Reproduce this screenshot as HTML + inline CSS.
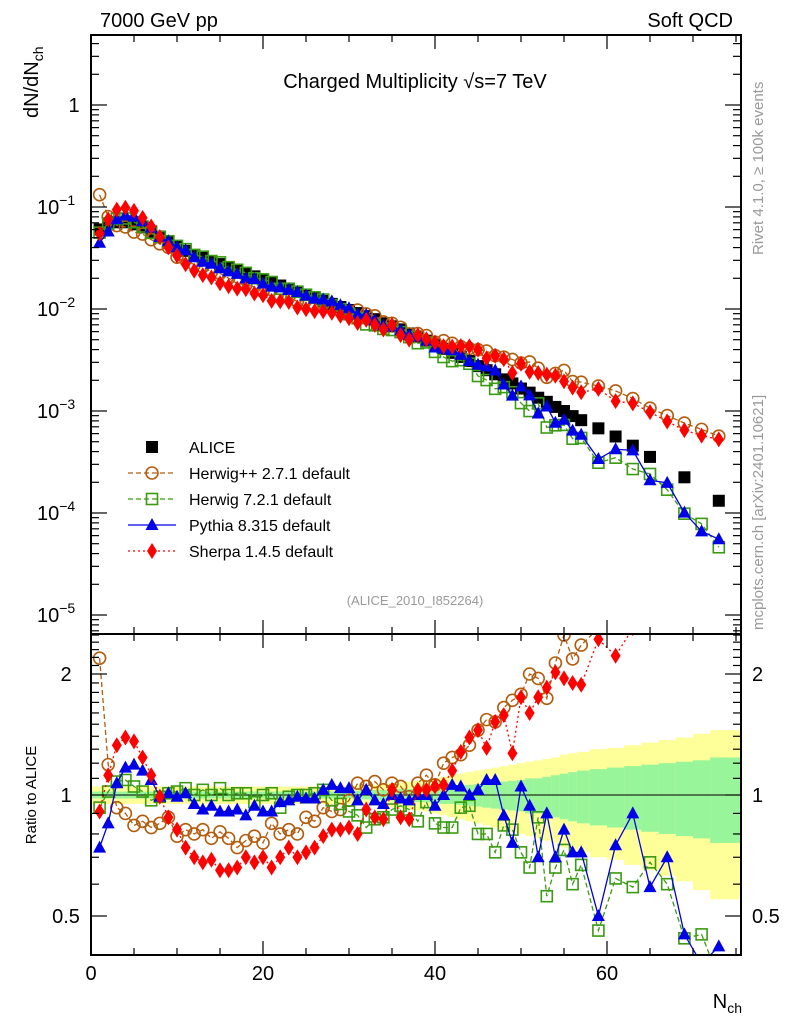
<!DOCTYPE html>
<html><head><meta charset="utf-8"><style>
body{margin:0;background:#fff}
svg text{font-family:"Liberation Sans",sans-serif}
</style></head><body>
<svg id="c" width="786" height="1024" viewBox="0 0 786 1024" xmlns="http://www.w3.org/2000/svg">
<text x="100" y="27" font-size="20">7000 GeV pp</text>
<text x="733" y="27" font-size="20" text-anchor="end">Soft QCD</text>
<text x="415" y="88" font-size="20" text-anchor="middle">Charged Multiplicity √s=7 TeV</text>
<text x="415" y="605" font-size="13" fill="#999" text-anchor="middle">(ALICE_2010_I852264)</text>
<text transform="translate(38,118) rotate(-90)" font-size="20">dN/dN<tspan font-size="14" dy="5">ch</tspan></text>
<text transform="translate(36,795) rotate(-90)" font-size="15" text-anchor="middle">Ratio to ALICE</text>
<text x="742" y="1008" font-size="20" text-anchor="end">N<tspan font-size="14" dy="5">ch</tspan></text>
<text transform="translate(763,255) rotate(-90)" font-size="15" fill="#999">Rivet 4.1.0, ≥ 100k events</text>
<text transform="translate(763,630) rotate(-90)" font-size="15" fill="#999">mcplots.cern.ch [arXiv:2401.10621]</text>
<g id="band"></g><g id="marks"></g><g id="axes"></g><g id="legend"></g>
</svg>
<script>
const bins=[1,2,3,4,5,6,7,8,9,10,11,12,13,14,15,16,17,18,19,20,21,22,23,24,25,26,27,28,29,30,31,32,33,34,35,36,37,38,39,40,41,42,43,44,45,46,47,48,49,50,51,52,53,54,55,56,57,59,61,63,65,67,69,71,73];
const aliceLog=[-1.22,-1.17,-1.15,-1.15,-1.17,-1.20,-1.24,-1.29,-1.34,-1.39,-1.43,-1.47,-1.50,-1.53,-1.56,-1.59,-1.62,-1.65,-1.68,-1.71,-1.74,-1.77,-1.80,-1.83,-1.86,-1.89,-1.92,-1.95,-1.98,-2.01,-2.04,-2.07,-2.10,-2.14,-2.17,-2.20,-2.24,-2.27,-2.31,-2.35,-2.39,-2.43,-2.47,-2.51,-2.56,-2.60,-2.64,-2.69,-2.73,-2.78,-2.82,-2.87,-2.91,-2.96,-3.00,-3.05,-3.09,-3.17,-3.25,-3.34,-3.45,-3.55,-3.65,-3.76,-3.88];
const aliceShown=[1,1,1,1,1,1,1,1,1,1,1,1,1,1,1,1,1,1,1,1,1,1,1,1,1,1,1,1,1,1,1,1,1,1,1,1,1,1,1,1,1,1,1,1,1,1,1,1,1,1,1,1,1,1,1,1,1,1,1,1,1,0,1,0,1];
const errStat=[.02,.02,.02,.02,.02,.02,.02,.02,.02,.02,.02,.02,.02,.02,.02,.02,.02,.02,.02,.02,.02,.02,.02,.02,.02,.02,.02,.02,.02,.02,.025,.025,.03,.03,.03,.035,.035,.04,.04,.045,.05,.05,.055,.06,.065,.07,.075,.08,.085,.09,.1,.1,.11,.12,.13,.14,.15,.16,.17,.18,.19,.2,.21,.22,.24];
const errTot=[.05,.05,.05,.05,.05,.05,.05,.05,.05,.05,.05,.05,.05,.05,.05,.05,.05,.05,.05,.05,.05,.05,.05,.05,.05,.05,.05,.05,.05,.05,.055,.06,.06,.065,.07,.075,.08,.085,.09,.1,.11,.12,.13,.14,.15,.16,.17,.18,.19,.2,.21,.22,.23,.24,.26,.27,.28,.3,.31,.33,.35,.37,.39,.42,.45];
const herwigpp=[2.19,1.19,.93,.90,.84,.86,.83,.85,.88,.79,.82,.80,.82,.78,.81,.78,.74,.77,.79,.76,.85,.80,.82,.80,.88,.86,.93,.91,.92,.97,1.07,1.05,1.08,1.03,1.07,1.05,.99,1.07,1.12,1.06,1.2,1.24,1.26,1.33,1.45,1.54,1.52,1.65,1.72,1.78,2.0,1.95,1.74,2.13,2.5,2.18,2.36,2.6,2.8,2.9,3.0,3.2,3.4,3.8,4.3];
const herwig7=[.93,1.02,1.08,1.09,1.05,1.02,.97,.99,1.01,1.02,1.04,1.0,1.03,1.0,1.04,1.0,1.01,1.01,.96,1.0,1.01,.93,.99,1.0,1.0,1.01,1.03,.97,.95,.91,.89,.83,.87,.88,.92,.94,.92,.86,.96,.85,.83,.83,.93,.94,.80,.80,.72,.84,.82,.72,.66,.88,.56,.66,.73,.60,.67,.46,.62,.59,.68,.60,.44,.45,.35];
const pythia=[.74,.85,1.07,1.17,1.19,1.15,1.09,.99,1.01,.99,1.01,.95,.92,.94,.91,.91,.92,.89,.94,.91,.91,.96,.97,.99,.98,.98,1.03,1.06,1.04,1.04,.97,1.03,.97,.95,1.0,.98,.97,1.0,1.0,.94,1.0,1.06,1.05,1.0,1.03,1.09,1.09,.89,.76,1.05,.94,.70,.90,.70,.82,.72,.72,.5,.75,.9,.59,.70,.45,.38,.42];
const sherpa=[.91,1.12,1.33,1.39,1.36,1.24,1.12,.99,.88,.82,.74,.70,.68,.69,.65,.65,.66,.70,.68,.70,.66,.70,.74,.70,.72,.74,.79,.82,.82,.83,.80,.92,.88,.87,1.03,.88,.87,1.03,1.03,1.05,1.06,1.15,1.28,1.39,1.45,1.31,1.52,1.58,1.27,1.75,1.60,1.75,1.85,2.02,1.95,1.90,1.88,2.44,2.22,2.6,2.75,2.8,2.9,3.3,4.0];
const yTickExp=[0,-1,-2,-3,-4,-5];
const rTicks=[2,1,0.5];
const xTicks=[0,20,40,60];

const NS='http://www.w3.org/2000/svg';
const L=91,R=741,T=35,MB=634,RB=955;
const X=n=>L+n*8.6;
const Y=lg=>105-lg*102;
const RY=r=>795-Math.log2(r)*121;
function mk(tag,at,par){const e=document.createElementNS(NS,tag);for(const k in at)e.setAttribute(k,at[k]);par.appendChild(e);return e;}
const band=document.getElementById('band'),marks=document.getElementById('marks'),axes=document.getElementById('axes'),leg=document.getElementById('legend');
const cp=mk('clipPath',{id:'cm'},document.getElementById('c'));mk('rect',{x:L,y:T,width:R-L,height:MB-T},cp);
const cr=mk('clipPath',{id:'cr'},document.getElementById('c'));mk('rect',{x:L,y:MB,width:R-L,height:RB-MB},cr);
band.setAttribute('clip-path','url(#cr)');
bins.forEach((n,i)=>{
 const x0=i==0?L:X((bins[i-1]+n)/2), x1=i==bins.length-1?R:X((bins[i+1]+n)/2);
 const a=mk('rect',{x:x0,y:RY(1+errTot[i]),width:x1-x0+0.5,height:RY(1-errTot[i])-RY(1+errTot[i]),fill:'#ffff99'},band);
 
 
 const b=mk('rect',{x:x0,y:RY(1+errStat[i]),width:x1-x0+0.5,height:RY(1-errStat[i])-RY(1+errStat[i]),fill:'#99f599'},band);
 
 
});
mk('line',{x1:L,x2:R,y1:RY(1),y2:RY(1),stroke:'#000','stroke-width':1},band);
function marker(g,shape,color,x,y){
 let e;
 if(shape=='sq')e=mk('rect',{x:x-6,y:y-6,width:12,height:12,fill:'#000'},g);
 else if(shape=='osq')e=mk('rect',{x:x-5.5,y:y-5.5,width:11,height:11,fill:'none',stroke:color,'stroke-width':1.6},g);
 else if(shape=='oc')e=mk('circle',{cx:x,cy:y,r:6,fill:'none',stroke:color,'stroke-width':1.6},g);
 else if(shape=='tri')e=mk('polygon',{points:`${x},${y-7} ${x-6.5},${y+5} ${x+6.5},${y+5}`,fill:color},g);
 else e=mk('polygon',{points:`${x},${y-8} ${x-5},${y} ${x},${y+8} ${x+5},${y}`,fill:color},g);
 return e;
}
const series=[
 {name:'herwigpp',d:herwigpp,c:'#b35c0e',s:'oc',dash:'5,3',lbl:'Herwig++ 2.7.1 default'},
 {name:'herwig7',d:herwig7,c:'#3a9a12',s:'osq',dash:'5,3',lbl:'Herwig 7.2.1 default'},
 {name:'pythia',d:pythia,c:'#0000e6',s:'tri',dash:'',lbl:'Pythia 8.315 default'},
 {name:'sherpa',d:sherpa,c:'#ff0000',s:'dia',dash:'2,3',lbl:'Sherpa 1.4.5 default'}];
const gm=mk('g',{'clip-path':'url(#cm)'},marks), gr=mk('g',{'clip-path':'url(#cr)'},marks);
bins.forEach((n,i)=>{if(!aliceShown[i])return;const m=marker(gm,'sq','#000',X(n),Y(aliceLog[i]));
 
 });
series.forEach(s=>{
 const pm=bins.map((n,i)=>X(n)+','+Y(aliceLog[i]+Math.log10(s.d[i]))).join(' ');
 const pr=bins.map((n,i)=>X(n)+','+RY(s.d[i])).join(' ');
 const l1=mk('polyline',{points:pm,fill:'none',stroke:s.c,'stroke-width':1.3,'stroke-dasharray':s.dash},gm);
 
 
 const l2=mk('polyline',{points:pr,fill:'none',stroke:s.c,'stroke-width':1.3,'stroke-dasharray':s.dash},gr);
 
 
 bins.forEach((n,i)=>{
  const a=marker(gm,s.s,s.c,X(n),Y(aliceLog[i]+Math.log10(s.d[i])));
  
  
  const b=marker(gr,s.s,s.c,X(n),RY(s.d[i]));
  
  
 });
});
mk('rect',{x:L,y:T,width:R-L,height:MB-T,fill:'none',stroke:'#000','stroke-width':2},axes);
mk('rect',{x:L,y:MB,width:R-L,height:RB-MB,fill:'none',stroke:'#000','stroke-width':2},axes);
function tk(x1,y1,x2,y2){mk('line',{x1,y1,x2,y2,stroke:'#000','stroke-width':1.2},axes);}
for(let n=0;n<=75;n+=5){const big=n%20==0;const h=big?14:7;
 tk(X(n),T,X(n),T+h);tk(X(n),MB,X(n),MB-h);tk(X(n),MB,X(n),MB+h);tk(X(n),RB,X(n),RB-h);}
xTicks.forEach(v=>{const t=mk('text',{x:X(v),y:980,'font-size':20,'text-anchor':'middle'},axes);t.textContent=v;
 
 });
for(let e=-6;e<=0;e++)for(let k=1;k<10;k++){const y=Y(e+Math.log10(k));if(y<T||y>MB)continue;const h=k==1?16:8;tk(L,y,L+h,y);tk(R,y,R-h,y);}
yTickExp.forEach(e=>{const t=mk('text',{x:e==0?74:37,y:Y(e)+7,'font-size':20,'text-anchor':e==0?'middle':'start'},axes);
 if(e==0)t.textContent='1';else{t.textContent='10';const s=mk('tspan',{dy:-9,'font-size':14},t);s.textContent=String(e).replace('-','−');}
 
 });
for(let r=0.4;r<=2.5;r=Math.round((r+0.1)*10)/10){const y=RY(r);if(y<MB||y>RB)continue;const big=rTicks.includes(r);const h=big?16:8;tk(L,y,L+h,y);tk(R,y,R-h,y);}
rTicks.forEach(r=>{[66,752].forEach(x=>{const t=mk('text',{x:x,y:RY(r)+7,'font-size':20,'text-anchor':x<100?'middle':'start'},axes);t.textContent=r;
 
 });});
const items=[{s:'sq',c:'#000',dash:null,lbl:'ALICE'}].concat(series.map(s=>({s:s.s,c:s.c,dash:s.dash,lbl:s.lbl})));
items.forEach((it,i)=>{const y=447+i*26;const g=mk('g',{},leg);
 
 
 if(it.dash!==null)mk('line',{x1:128,x2:176,y1:y,y2:y,stroke:it.c,'stroke-width':1.3,'stroke-dasharray':it.dash},g);
 marker(g,it.s,it.c,152,y);
 const t=mk('text',{x:189,y:y+6,'font-size':16},g);t.textContent=it.lbl;});
</script>
</body></html>
